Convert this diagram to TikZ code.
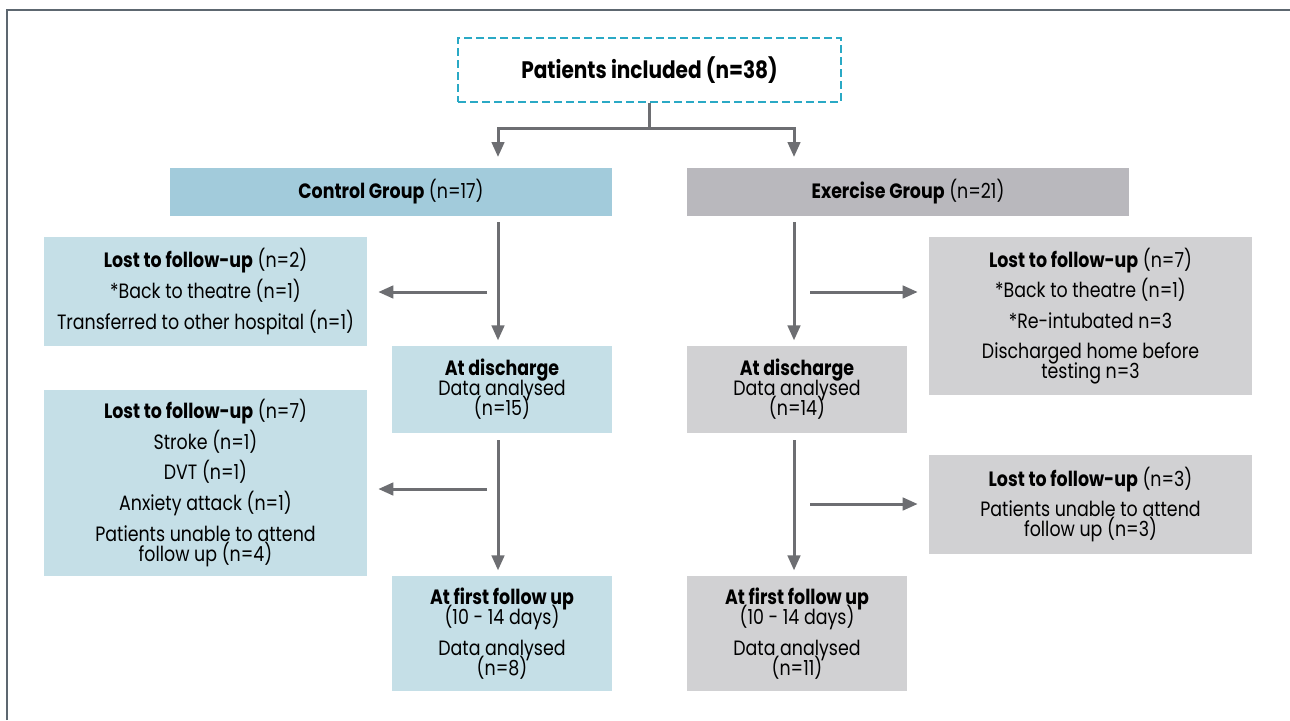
\documentclass[tikz,border=0pt]{standalone}
\usepackage{fontspec}
\setmainfont{Poppins}[FakeStretch=0.84]
\usetikzlibrary{arrows.meta}

\definecolor{ctrlhead}{HTML}{A2CBDB}
\definecolor{ctrlbox}{HTML}{C5DFE7}
\definecolor{exhead}{HTML}{B9B8BD}
\definecolor{exbox}{HTML}{D1D1D3}
\definecolor{dashblue}{HTML}{2AA9C5}
\definecolor{linegrey}{HTML}{6D6E72}
\definecolor{framegrey}{HTML}{5D6770}

\newcommand\boxfont{\fontsize{11.8}{11.4}\selectfont\lineskiplimit=-20pt}

\tikzset{
  box/.style={inner sep=0pt, align=center, font=\boxfont},
  ctrlhd/.style={box, fill=ctrlhead, minimum width=8.84cm, minimum height=0.96cm},
  exhd/.style={box, fill=exhead, minimum width=8.84cm, minimum height=0.96cm},
  ctrl/.style={box, fill=ctrlbox},
  exer/.style={box, fill=exbox},
  conn/.style={draw=linegrey, line width=0.06cm},
  arr/.style={conn, -{Triangle[width=0.25cm,length=0.3cm]}},
}

\begin{document}
\begin{tikzpicture}[x=0.02cm, y=-0.02cm]
    \useasboundingbox (0,0) rectangle (1290,720);
    \draw[framegrey, line width=0.04cm] (7,720) -- (7,10) -- (1290,10);

    % top
    \node (incl) at (649.5,70) [box, draw=dashblue, line width=0.04cm,
        dash pattern=on 0.16cm off 0.08cm, minimum width=7.66cm, minimum height=1.28cm,
        font=\fontsize{13.6}{14}\selectfont]
        {\textbf{Patients included (n=38)}};

    % groups
    \node (ctrlgrp) at (391,192) [ctrlhd] {\textbf{Control Group} (n=17)};
    \node (exgrp) at (908,192) [exhd] {\textbf{Exercise Group} (n=21)};

    % control arm
    \node (ctrldis) at (502,389.5) [ctrl, minimum width=4.4cm, minimum height=1.74cm]
        {\textbf{At discharge}\\Data analysed\\(n=15)};
    \node (ctrlfu) at (502,633.5) [ctrl, minimum width=4.4cm, minimum height=2.3cm]
        {\textbf{At first follow up}\\(10 - 14 days)\\[6pt]Data analysed\\(n=8)};
    \node (ctrllost1) at (205.5,291.5) [ctrl, minimum width=6.46cm, minimum height=2.18cm]
        {\textbf{Lost to follow-up} (n=2)\\[6pt]*Back to theatre (n=1)\\[6pt]Transferred to other hospital (n=1)};
    \node (ctrllost2) at (205.5,483) [ctrl, minimum width=6.46cm, minimum height=3.72cm]
        {\textbf{Lost to follow-up} (n=7)\\[6pt]Stroke (n=1)\\[6pt]DVT (n=1)\\[6pt]Anxiety attack (n=1)\\[6pt]Patients unable to attend\\follow up (n=4)};

    % exercise arm
    \node (exdis) at (797,389.5) [exer, minimum width=4.4cm, minimum height=1.74cm]
        {\textbf{At discharge}\\Data analysed\\(n=14)};
    \node (exfu) at (797,633.5) [exer, minimum width=4.4cm, minimum height=2.3cm]
        {\textbf{At first follow up}\\(10 - 14 days)\\[6pt]Data analysed\\(n=11)};
    \node (exlost1) at (1090.5,316) [exer, minimum width=6.46cm, minimum height=3.16cm]
        {\textbf{Lost to follow-up} (n=7)\\[6pt]*Back to theatre (n=1)\\[6pt]*Re-intubated n=3\\[6pt]Discharged home before\\testing n=3};
    \node (exlost2) at (1090.5,504.5) [exer, minimum width=6.46cm, minimum height=1.98cm]
        {\textbf{Lost to follow-up} (n=3)\\[6pt]Patients unable to attend\\follow up (n=3)};

    % split from top box
    \coordinate (ctrlin) at (498,157);
    \coordinate (exin) at (794,157);
    \draw[conn] (incl.south) -- ++(0,26) coordinate (split);
    \draw[arr] (split) -| (ctrlin);
    \draw[arr] (split) -| (exin);

    % down the arms
    \coordinate (ctrlc1) at (498,222);
    \coordinate (ctrlc2) at (498,440);
    \coordinate (exc1) at (794,222);
    \coordinate (exc2) at (794,440);
    \draw[arr, shorten >=3pt] (ctrlc1) -- (ctrlc1 |- ctrldis.north);
    \draw[arr, shorten >=3pt] (ctrlc2) -- (ctrlc2 |- ctrlfu.north);
    \draw[arr, shorten >=3pt] (exc1) -- (exc1 |- exdis.north);
    \draw[arr, shorten >=3pt] (exc2) -- (exc2 |- exfu.north);

    % losses
    \coordinate (ctrlout1) at (487,292);
    \coordinate (ctrlout2) at (487,489);
    \coordinate (exout1) at (810,292);
    \coordinate (exout2) at (810,504);
    \draw[arr, shorten >=0.22cm] (ctrlout1) -- (ctrlout1 -| ctrllost1.east);
    \draw[arr, shorten >=0.22cm] (ctrlout2) -- (ctrlout2 -| ctrllost2.east);
    \draw[arr, shorten >=0.22cm] (exout1) -- (exout1 -| exlost1.west);
    \draw[arr, shorten >=0.22cm] (exout2) -- (exout2 -| exlost2.west);
\end{tikzpicture}
\end{document}
